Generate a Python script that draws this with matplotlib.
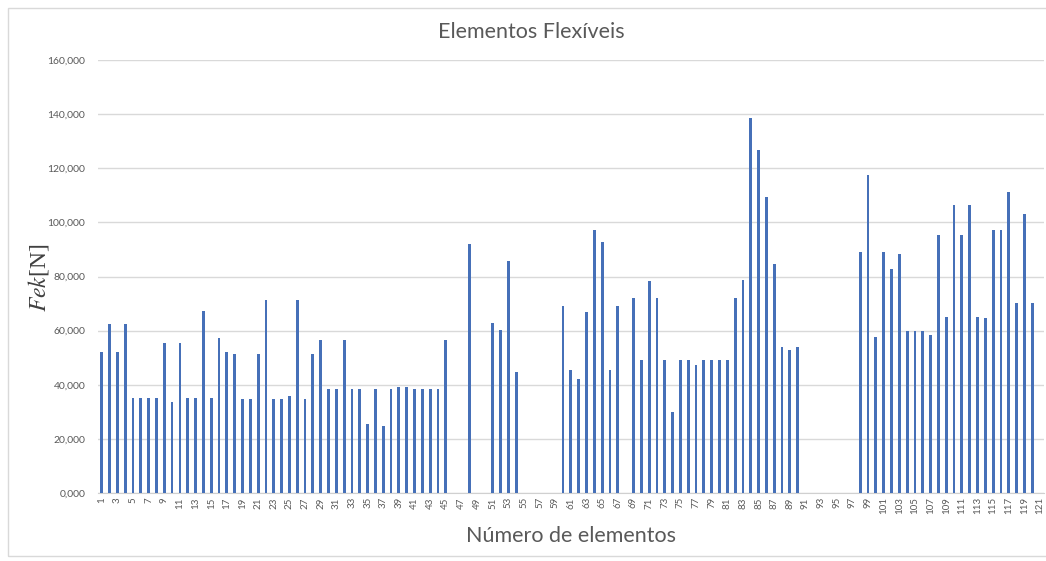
import numpy as np
from matplotlib import pyplot as plt
from matplotlib.patches import Rectangle


# element numbers 1..121 and the force (0 = no bar)
elementos = list(range(1, 122))

fek = [52.0, 62.4, 52.0, 62.4, 35.1, 35.1, 35.1, 35.1, 55.5, 33.6,
       55.5, 35.1, 35.1, 67.1, 35.1, 57.4, 52.0, 51.4, 34.7, 34.7,
       51.4, 71.3, 34.7, 34.7, 35.7, 71.3, 34.7, 51.4, 56.4, 38.4,
       38.5, 56.6, 38.5, 38.5, 25.6, 38.5, 24.6, 38.5, 39.0, 39.0,
       38.5, 38.5, 38.5, 38.5, 56.7, 0.0, 0.0, 92.0, 0.0, 0.0,
       62.7, 60.3, 85.8, 44.7, 0.0, 0.0, 0.0, 0.0, 0.0, 69.2,
       45.6, 42.2, 66.7, 97.3, 92.7, 45.6, 69.2, 0.0, 71.9, 49.3,
       78.4, 71.9, 49.3, 29.9, 49.3, 49.3, 47.4, 49.3, 49.3, 49.3,
       49.3, 71.9, 78.6, 138.5, 126.7, 109.5, 84.8, 53.8, 52.8, 53.8,
       0.0, 0.0, 0.0, 0.0, 0.0, 0.0, 0.0, 89.2, 117.4, 57.5,
       89.2, 82.6, 88.3, 60.0, 60.0, 60.0, 58.2, 95.2, 65.2, 106.4,
       95.2, 106.4, 65.2, 64.7, 97.2, 97.2, 111.4, 70.2, 103.1, 70.2,
       0.0]

yticks = [0, 20, 40, 60, 80, 100, 120, 140, 160]

titulo = 'Elementos Flexíveis'
xlabel = 'Número de elementos'

W, H = 1046, 561
cinza = '#595959'

plt.rcParams['font.family'] = ['Lato', 'DejaVu Sans']
plt.rcParams['mathtext.fontset'] = 'stix'

fig = plt.figure(figsize=(W / 100, H / 100), dpi=100)
ax = fig.add_axes([97.8 / W, 1 - 493 / H, (1044 - 97.8) / W, (493 - 60) / H])

ax.bar(elementos, fek, width=0.36, color='#4670b8', zorder=3)

ax.set_xlim(0.5, 121.5)
ax.set_ylim(0, 160)
ax.set_yticks(yticks)
ax.set_yticklabels([('%.3f' % v).replace('.', ',') for v in yticks])
ax.set_xticks(elementos[::2])
ax.set_xticklabels([str(e) for e in elementos[::2]], rotation=90)

ax.grid(axis='y', color='#d9d9d9', linewidth=1, zorder=0)
for s in ['top', 'right', 'left']:
    ax.spines[s].set_visible(False)
ax.spines['bottom'].set_color('#d0d0d0')
ax.tick_params(axis='both', length=0, colors=cinza)
ax.tick_params(axis='y', labelsize=7.5, pad=9)
ax.tick_params(axis='x', labelsize=7, pad=3)

fig.text(531 / W, 1 - 32 / H, titulo, ha='center', va='center',
         fontsize=15.5, color=cinza)
fig.text(571 / W, 1 - 536 / H, xlabel, ha='center', va='center',
         fontsize=15.5, color=cinza)
fig.text(38 / W, 1 - 278 / H, r'$Fek$[N]', ha='center', va='center',
         rotation=90, fontsize=17, color='#404040',
         family=['Liberation Serif', 'DejaVu Serif'])

# light chart-area border, like the spreadsheet export
fig.patches.append(Rectangle((8 / W, 1 - 556 / H), 1.1, (556 - 8) / H,
                             transform=fig.transFigure, fill=False,
                             edgecolor='#d9d9d9', linewidth=1))

fig.savefig('out.png', dpi=100)
